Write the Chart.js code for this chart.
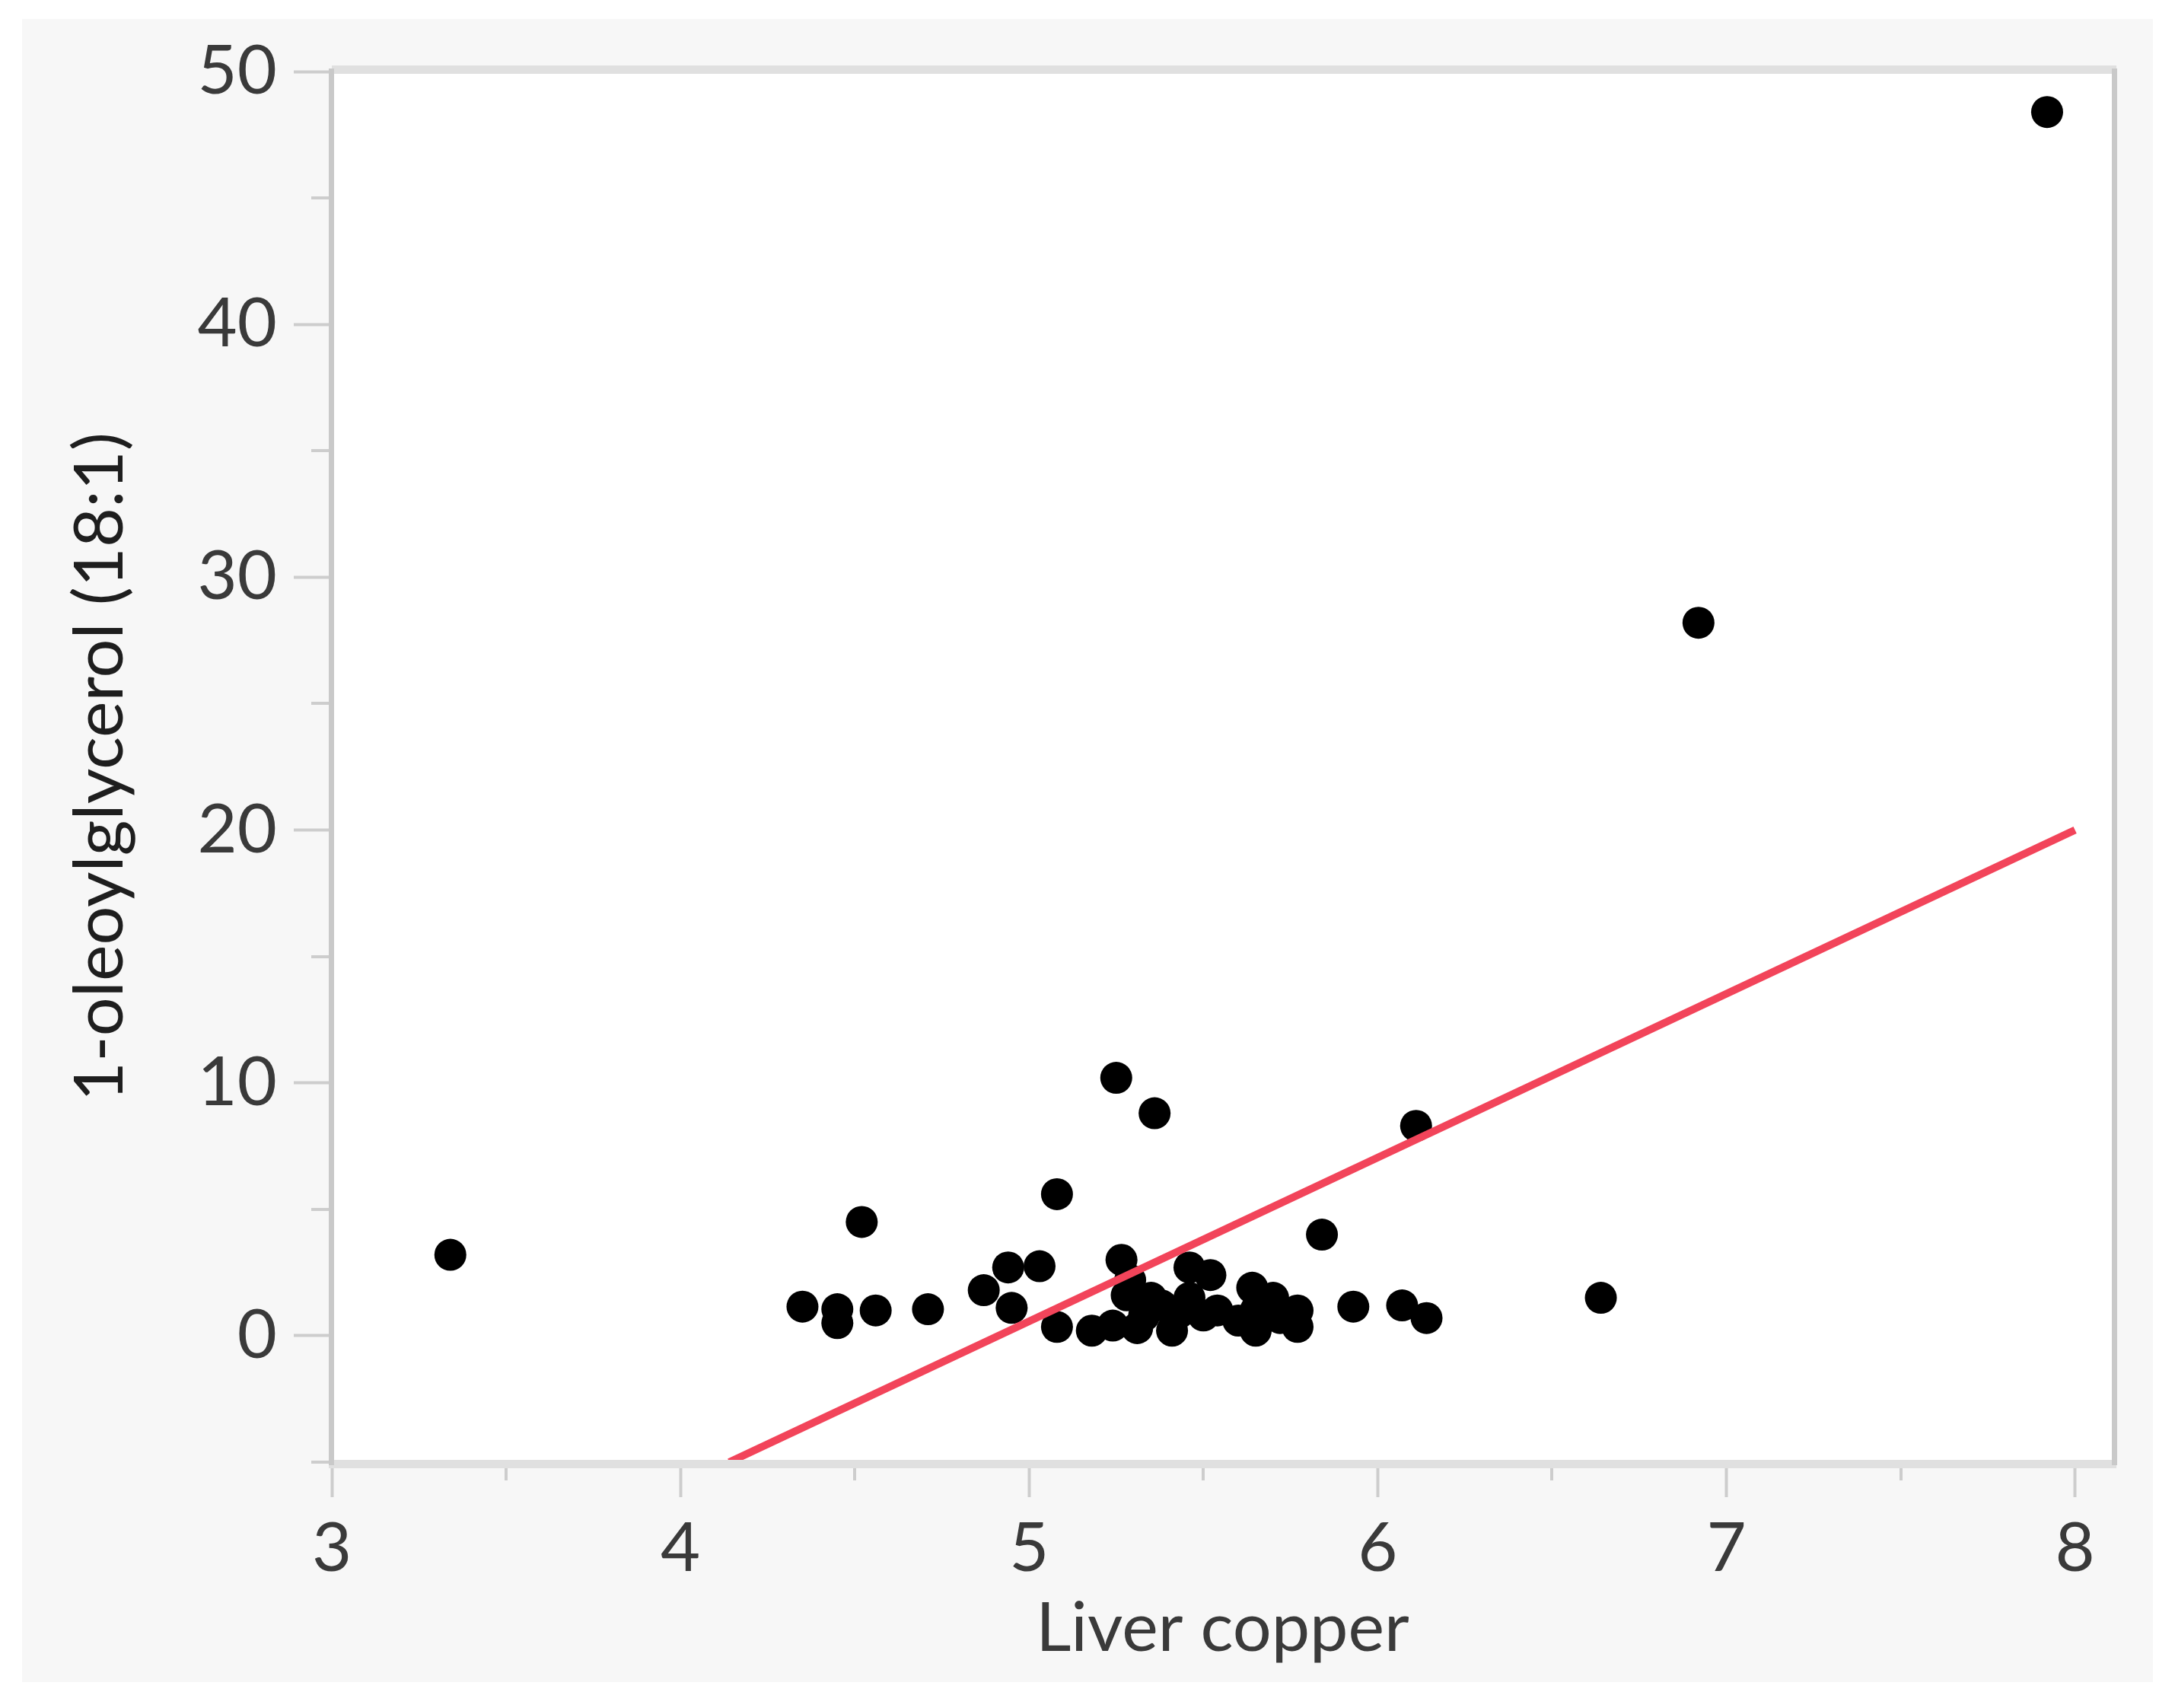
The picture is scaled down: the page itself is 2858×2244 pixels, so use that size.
<!DOCTYPE html>
<html>
<head>
<meta charset="utf-8">
<script src="https://cdn.jsdelivr.net/npm/chart.js@4.4.1/dist/chart.umd.min.js"></script>
<style>
html, body { margin: 0; padding: 0; background: #ffffff; }
canvas { display: block; }
</style>
</head>
<body>
<canvas id="c" width="2858" height="2244"></canvas>
<script>
// ---- data ----
const liverCopper = [
  3.34, 7.92, 6.92, 6.64, 5.25, 5.36, 5.08, 4.52, 5.84, 6.11,
  4.35, 4.45, 4.45, 4.56, 4.71, 4.87, 4.94, 5.03, 4.95, 5.08,
  5.18, 5.265, 5.24, 5.28, 5.33, 5.29, 5.41, 5.46, 5.52, 5.50,
  5.46, 5.38, 5.54, 5.64, 5.70, 5.65, 5.65, 5.77, 5.77, 5.93,
  6.07, 6.14, 5.35, 5.43, 5.60, 5.72, 5.31
];
const oleoylglycerol = [
  3.2, 48.4, 28.2, 1.5, 10.2, 8.8, 5.6, 4.5, 4.0, 8.3,
  1.15, 1.05, 0.5, 1.0, 1.05, 1.8, 2.7, 2.75, 1.1, 0.35,
  0.2, 3.0, 0.4, 1.6, 0.8, 2.2, 0.2, 2.7, 2.4, 0.8,
  1.5, 1.2, 1.0, 1.9, 1.5, 0.2, 1.0, 1.0, 0.35, 1.15,
  1.2, 0.7, 1.5, 0.9, 0.6, 0.7, 0.3
];
const fitLineX = [4.14, 8.0];
const fitLineY = [-5, 20];
const xTicks = [3, 4, 5, 6, 7, 8];
const xMinorTicks = [3.5, 4.5, 5.5, 6.5, 7.5];
const yTicks = [0, 10, 20, 30, 40, 50];
const yMinorTicks = [-5, 5, 15, 25, 35, 45];
const xTitle = 'Liver copper';
const yTitle = '1-oleoylglycerol (18:1)';

// ---- build datasets from the arrays ----
const scatterData = liverCopper.map((x, i) => ({ x: x, y: oleoylglycerol[i] }));
const fitData = fitLineX.map((x, i) => ({ x: x, y: fitLineY[i] }));

const FONT = 'Lato';
const TICK_GREY = '#cdcdcd';

const framePlugin = {
  id: 'frame',
  beforeDraw(chart) {
    const ctx = chart.ctx;
    const a = chart.chartArea;
    ctx.save();
    ctx.fillStyle = '#ffffff';
    ctx.fillRect(0, 0, chart.width, chart.height);
    ctx.fillStyle = '#f7f7f7';
    ctx.fillRect(29, 25, 2800, 2185);
    ctx.fillStyle = '#ffffff';
    ctx.fillRect(a.left, a.top, a.right - a.left, a.bottom - a.top);
    ctx.restore();
  },
  afterDraw(chart) {
    const ctx = chart.ctx;
    const a = chart.chartArea;
    const xs = chart.scales.x, ys = chart.scales.y;
    ctx.save();
    // minor ticks
    ctx.strokeStyle = TICK_GREY;
    ctx.lineWidth = 4;
    ctx.beginPath();
    xMinorTicks.forEach(v => {
      const px = Math.round(xs.getPixelForValue(v));
      ctx.moveTo(px, a.bottom);
      ctx.lineTo(px, a.bottom + 24);
    });
    yMinorTicks.forEach(v => {
      const py = Math.round(ys.getPixelForValue(v));
      ctx.moveTo(a.left, py);
      ctx.lineTo(a.left - 27, py);
    });
    ctx.stroke();
    // frame: top & bottom light bands, left & right darker lines
    ctx.fillStyle = '#e0e0e0';
    ctx.fillRect(a.left, a.top - 8, a.right - a.left + 4, 11);
    ctx.fillRect(a.left - 4, a.bottom - 3, a.right - a.left + 8, 11);
    ctx.fillStyle = '#c9c9c9';
    ctx.fillRect(a.left - 4, a.top - 4, 7, a.bottom - a.top + 8);
    ctx.fillRect(a.right - 2, a.top - 4, 7, a.bottom - a.top + 8);
    ctx.restore();
  }
};

new Chart(document.getElementById('c'), {
  type: 'scatter',
  data: {
    datasets: [
      {
        type: 'line',
        label: 'fit',
        data: fitData,
        borderColor: '#f2445a',
        borderWidth: 10,
        pointRadius: 0,
        fill: false,
        order: 0
      },
      {
        label: 'points',
        data: scatterData,
        backgroundColor: '#000000',
        borderColor: '#000000',
        borderWidth: 0,
        pointRadius: 21,
        pointHoverRadius: 21,
        order: 1
      }
    ]
  },
  options: {
    responsive: false,
    animation: false,
    devicePixelRatio: 1,
    layout: { padding: { left: 0, top: 94, right: 81, bottom: 0 } },
    plugins: {
      legend: { display: false },
      tooltip: { enabled: false }
    },
    scales: {
      x: {
        type: 'linear',
        min: 3,
        max: 8.11,
        afterBuildTicks(scale) { scale.ticks = xTicks.map(v => ({ value: v })); },
        afterFit(scale) { scale.height = 323; },
        border: { display: false },
        grid: {
          drawOnChartArea: false,
          drawTicks: true,
          tickLength: 46,
          tickColor: TICK_GREY,
          tickWidth: 4
        },
        ticks: {
          padding: 14,
          color: '#3a3a3a',
          font: { family: FONT, size: 90 },
          maxRotation: 0
        },
        title: {
          display: true,
          text: xTitle,
          color: '#3a3a3a',
          font: { family: FONT, size: 90 },
          padding: { top: 0, bottom: 50 }
        }
      },
      y: {
        type: 'linear',
        min: -5,
        max: 50,
        afterBuildTicks(scale) { scale.ticks = yTicks.map(v => ({ value: v })); },
        afterFit(scale) { scale.width = 436; },
        border: { display: false },
        grid: {
          drawOnChartArea: false,
          drawTicks: true,
          tickLength: 50,
          tickColor: TICK_GREY,
          tickWidth: 4
        },
        ticks: {
          padding: 22,
          color: '#3a3a3a',
          font: { family: FONT, size: 90 }
        },
        title: {
          display: true,
          text: yTitle,
          color: '#1e1e1e',
          font: { family: FONT, size: 90 },
          padding: { top: 78, bottom: 0 }
        }
      }
    }
  },
  plugins: [framePlugin]
});
</script>
</body>
</html>
